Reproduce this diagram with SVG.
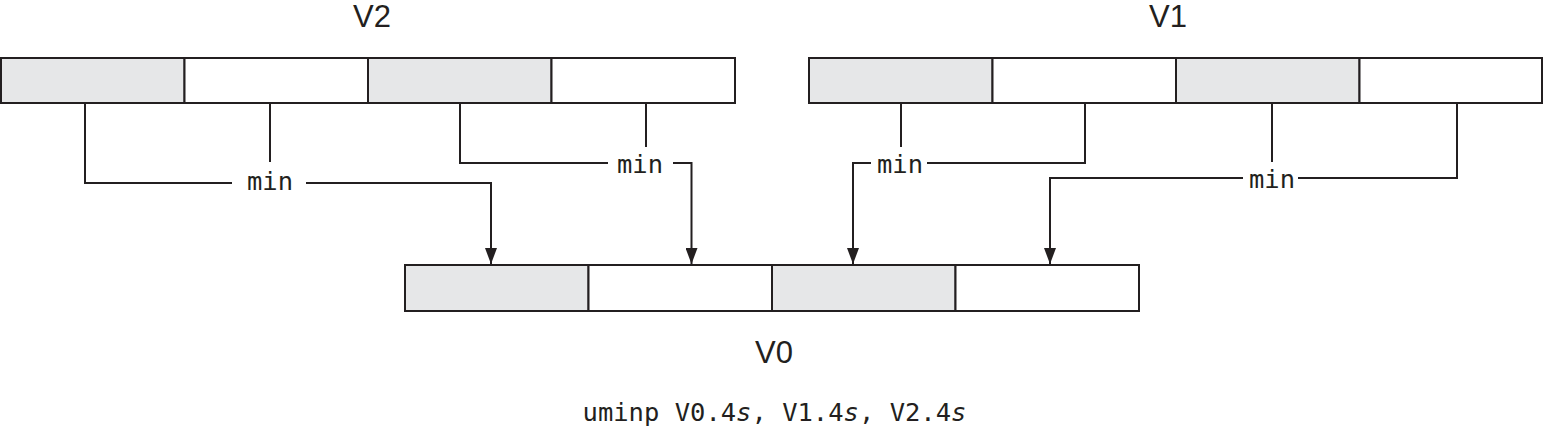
<svg xmlns="http://www.w3.org/2000/svg" width="1544" height="434" viewBox="0 0 1544 434">
<style>
.cell{stroke:#231f20;stroke-width:2;}
.g{fill:#e6e7e8;}
.w{fill:#ffffff;}
.conn{fill:none;stroke:#231f20;stroke-width:2;}
.reg{font-family:"Liberation Sans",Arial,sans-serif;font-size:31px;fill:#231f20;text-anchor:middle;}
.mono{font-family:"DejaVu Sans Mono","Liberation Mono",monospace;font-size:25.5px;fill:#231f20;text-anchor:middle;}
</style>
<defs>
<marker id="arr" markerUnits="userSpaceOnUse" markerWidth="16" markerHeight="12" viewBox="0 0 16 12" refX="16" refY="6" orient="auto">
<path d="M0,0 L16,6 L0,12 z" fill="#231f20"/>
</marker>
</defs>
<rect width="1544" height="434" fill="#ffffff"/>
<g id="V2">
<rect class="cell g" x="1" y="58" width="183.5" height="45"/>
<rect class="cell w" x="184.5" y="58" width="183.5" height="45"/>
<rect class="cell g" x="368" y="58" width="183.5" height="45"/>
<rect class="cell w" x="551.5" y="58" width="183.5" height="45"/>
<text class="reg" x="372" y="27">V2</text>
</g>
<g id="V1">
<rect class="cell g" x="809" y="58" width="183.5" height="45"/>
<rect class="cell w" x="992.5" y="58" width="183.5" height="45"/>
<rect class="cell g" x="1176" y="58" width="183.5" height="45"/>
<rect class="cell w" x="1359.5" y="58" width="182.5" height="45"/>
<text class="reg" x="1168" y="27">V1</text>
</g>
<g id="V0">
<rect class="cell g" x="405" y="265" width="183.5" height="46"/>
<rect class="cell w" x="588.5" y="265" width="183.5" height="46"/>
<rect class="cell g" x="772" y="265" width="183.5" height="46"/>
<rect class="cell w" x="955.5" y="265" width="183.5" height="46"/>
<text class="reg" x="774" y="363">V0</text>
</g>
<g id="min1"><text class="mono" x="270" y="190">min</text></g>
<g id="min2"><text class="mono" x="640" y="173">min</text></g>
<g id="min3"><text class="mono" x="900" y="173">min</text></g>
<g id="min4"><text class="mono" x="1272" y="188">min</text></g>
<g id="connectors">
<path class="conn" d="M85,103 V183 H232"/>
<path class="conn" d="M270,103 V162"/>
<path class="conn" d="M306,183 H491 V264" marker-end="url(#arr)"/>
<path class="conn" d="M460,103 V163 H608"/>
<path class="conn" d="M646,103 V147"/>
<path class="conn" d="M673,163 H691.5 V264" marker-end="url(#arr)"/>
<path class="conn" d="M901,103 V147"/>
<path class="conn" d="M1085,103 V163 H927"/>
<path class="conn" d="M871,163 H853 V264" marker-end="url(#arr)"/>
<path class="conn" d="M1272,103 V162"/>
<path class="conn" d="M1457,103 V178 H1298"/>
<path class="conn" d="M1243,178 H1050 V264" marker-end="url(#arr)"/>
</g>
<g id="caption">
<text class="mono" x="774.5" y="421">uminp V0.4<tspan font-style="italic">s</tspan>, V1.4<tspan font-style="italic">s</tspan>, V2.4<tspan font-style="italic">s</tspan></text>
</g>
</svg>
